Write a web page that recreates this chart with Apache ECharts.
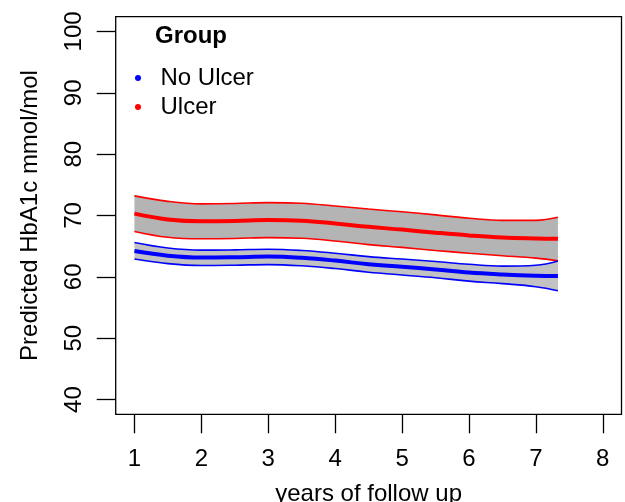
<!DOCTYPE html>
<html>
<head>
<meta charset="utf-8">
<script src="https://cdn.jsdelivr.net/npm/echarts@6/dist/echarts.min.js"></script>
<style>html,body{margin:0;padding:0;background:#fff}#c{width:625px;height:502px}</style>
</head>
<body>
<div id="c"></div>
<script>
var years = [1, 1.5, 2, 2.5, 3, 3.5, 4, 4.5, 5, 5.5, 6, 6.5, 7, 7.33];
var ulcerFit   = [70.3, 69.35, 69.05, 69.1, 69.25, 69.15, 68.7, 68.15, 67.7, 67.2, 66.75, 66.4, 66.25, 66.2];
var ulcerUpper = [73.2, 72.3, 71.9, 71.95, 72.1, 72.0, 71.55, 71.05, 70.6, 70.1, 69.55, 69.2, 69.2, 69.7];
var ulcerLower = [67.4, 66.45, 66.2, 66.25, 66.4, 66.3, 65.85, 65.25, 64.8, 64.3, 63.85, 63.45, 63.05, 62.6];
var noUlcerFit   = [64.2, 63.45, 63.15, 63.2, 63.3, 63.1, 62.65, 62.05, 61.65, 61.2, 60.7, 60.4, 60.2, 60.15];
var noUlcerUpper = [65.6, 64.7, 64.35, 64.4, 64.5, 64.3, 63.85, 63.3, 62.9, 62.5, 62.05, 61.75, 61.9, 62.6];
var noUlcerLower = [62.9, 62.15, 61.85, 61.9, 62.0, 61.8, 61.35, 60.75, 60.3, 59.85, 59.3, 58.9, 58.4, 57.75];
var xTicks = [1, 2, 3, 4, 5, 6, 7, 8];
var yTicks = [40, 50, 60, 70, 80, 90, 100];

var FONT = 'Liberation Sans, Arial, sans-serif';
var SMOOTH = 0.4;
// items are [value, year] so that stacking acts on the value dimension
function pts(ys) { return years.map(function (x, i) { return [ys[i], x]; }); }
function diff(a, b) { return years.map(function (x, i) { return [+(a[i] - b[i]).toFixed(3), x]; }); }
var ENC = { x: 1, y: 0 };

function bandSeries(stack, lower, upper, color, fill, z) {
  return [
    { type: 'line', stack: stack, stackStrategy: 'all', data: pts(lower), encode: ENC, smooth: SMOOTH,
      symbol: 'none', z: z + 1, silent: true, lineStyle: { color: color, width: 1.6 } },
    { type: 'line', stack: stack, stackStrategy: 'all', data: diff(upper, lower), encode: ENC, smooth: SMOOTH,
      symbol: 'none', z: z, silent: true, lineStyle: { color: color, width: 1.6 },
      areaStyle: { color: fill, opacity: 1 } }
  ];
}

var chart = echarts.init(document.getElementById('c'));
var series = [].concat(
  bandSeries('u', ulcerLower, ulcerUpper, '#ff0000', '#b4b4b4', 2),
  [{ name: 'Ulcer', type: 'line', data: pts(ulcerFit), encode: ENC, smooth: SMOOTH, symbol: 'none', z: 4,
     itemStyle: { color: '#ff0000' }, lineStyle: { color: '#ff0000', width: 4 } }],
  bandSeries('n', noUlcerLower, noUlcerUpper, '#0000ff', '#c2c2c2', 5),
  [{ name: 'No Ulcer', type: 'line', data: pts(noUlcerFit), encode: ENC, smooth: SMOOTH, symbol: 'none', z: 7,
     itemStyle: { color: '#0000ff' }, lineStyle: { color: '#0000ff', width: 4 } }]
);

chart.setOption({
  animation: false,
  backgroundColor: '#fff',
  title: { text: 'Group', left: 150, top: 19,
    textStyle: { fontFamily: FONT, fontSize: 24, fontWeight: 'bold', color: '#000' } },
  legend: {
    data: ['No Ulcer', 'Ulcer'], orient: 'vertical', left: 130, top: 61,
    icon: 'circle', itemWidth: 35, itemHeight: 6, itemGap: 5, symbolKeepAspect: true,
    textStyle: { fontFamily: FONT, fontSize: 24, color: '#000' }
  },
  grid: { left: 115.7, right: 3.5, top: 16.7, bottom: 87.7, show: true, outerBoundsMode: 'none',
    containLabel: false, borderColor: '#000', borderWidth: 1.3, backgroundColor: 'transparent', z: 10 },
  xAxis: {
    type: 'value', min: 0.72, max: 8.28,
    name: 'years of follow up', nameLocation: 'middle', nameGap: 68,
    nameTextStyle: { fontFamily: FONT, fontSize: 24, color: '#000' },
    axisLine: { show: false }, splitLine: { show: false },
    axisTick: { show: true, customValues: xTicks, length: 19, lineStyle: { color: '#000', width: 1.3 } },
    axisLabel: { customValues: xTicks, margin: 33, fontFamily: FONT, fontSize: 24, color: '#000' }
  },
  yAxis: {
    type: 'value', min: 37.6, max: 102.4,
    name: 'Predicted HbA1c mmol/mol', nameLocation: 'middle', nameGap: 73, nameRotate: 90,
    nameTextStyle: { fontFamily: FONT, fontSize: 24, color: '#000' },
    axisLine: { show: false }, splitLine: { show: false },
    axisTick: { show: true, customValues: yTicks, length: 19, lineStyle: { color: '#000', width: 1.3 } },
    axisLabel: { customValues: yTicks, rotate: 90, margin: 29, fontFamily: FONT, fontSize: 24, color: '#000' }
  },
  series: series
});
</script>
</body>
</html>
